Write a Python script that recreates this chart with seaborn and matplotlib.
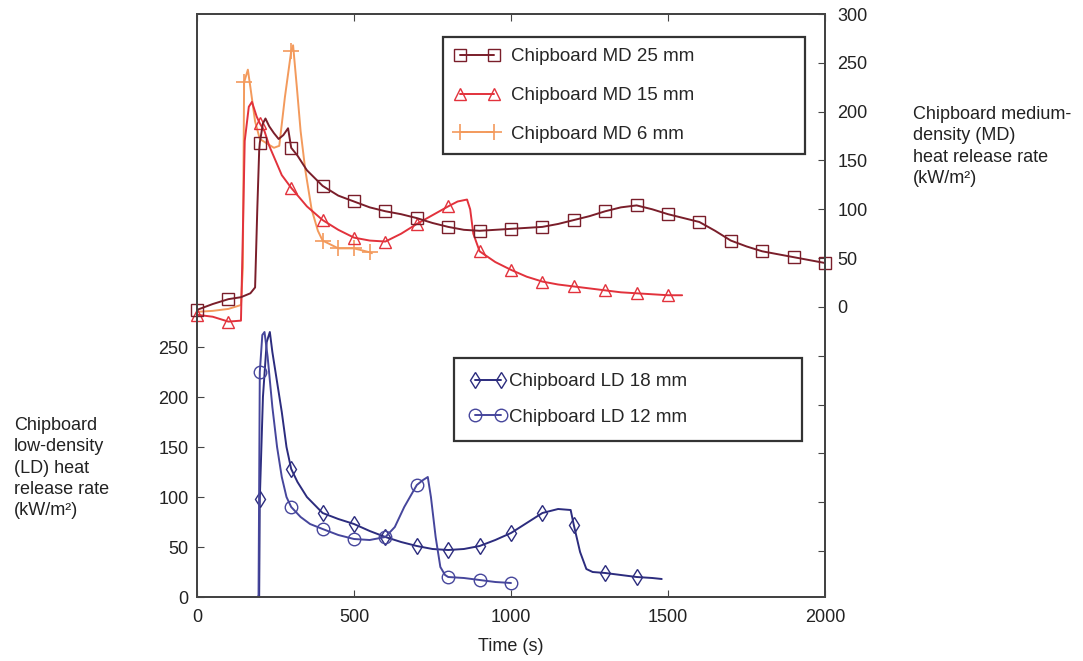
import numpy as np
import matplotlib
matplotlib.use("Agg")
import matplotlib.pyplot as plt
from matplotlib.lines import Line2D
from matplotlib.ticker import FixedLocator
import seaborn as sns

# ---------------- data ----------------
md25_t = [0, 50, 100, 140, 170, 185, 192, 198, 200, 210, 218, 230, 245, 260, 275, 290, 300, 320, 350,
          400, 450, 500, 550, 600, 650, 700, 750, 800, 850, 900, 950, 1000, 1050, 1100, 1150, 1200,
          1250, 1300, 1350, 1400, 1450, 1500, 1550, 1600, 1650, 1700, 1750, 1800, 1850, 1900, 1950, 2000]
md25_v = [-3, 3, 8, 10, 14, 20, 100, 160, 168, 188, 193, 185, 178, 172, 176, 183, 163, 155, 140,
          124, 114, 108, 102, 98, 95, 91, 86, 82, 79, 78, 79, 80, 81, 82, 85, 89,
          93, 98, 102, 104, 100, 95, 91, 87, 78, 68, 62, 57, 54, 51, 48, 45]
md25_mark = [0, 100, 200, 300, 400, 500, 600, 700, 800, 900, 1000, 1100, 1200, 1300, 1400, 1500,
             1600, 1700, 1800, 1900, 2000]

md15_t = [0, 50, 100, 140, 145, 152, 165, 175, 190, 200, 215, 230, 250, 270, 300, 350, 400, 450, 500,
          550, 600, 650, 700, 750, 800, 830, 860, 870, 880, 900, 950, 1000, 1050, 1100, 1150, 1200,
          1250, 1300, 1350, 1400, 1450, 1500, 1545]
md15_v = [-8, -10, -15, -14, 60, 170, 205, 210, 195, 188, 180, 165, 150, 135, 122, 103, 89, 79, 71,
          68, 67, 75, 85, 94, 103, 108, 110, 100, 75, 57, 46, 38, 31, 26, 23, 21,
          19, 17, 15, 14, 13, 12, 12]
md15_mark = [0, 100, 200, 300, 400, 500, 600, 700, 800, 900, 1000, 1100, 1200, 1300, 1400, 1500]

md6_t = [0, 50, 100, 140, 146, 150, 162, 170, 185, 200, 220, 245, 262, 280, 300, 306, 318, 330, 345,
         365, 385, 400, 450, 500, 550, 557]
md6_v = [-5, -4, -2, 2, 40, 230, 243, 225, 190, 172, 168, 163, 165, 215, 262, 268, 225, 180, 140,
         100, 78, 68, 60, 60, 56, 55]
md6_mark = [150, 300, 400, 450, 500, 550]

ld18_t = [198, 200, 210, 222, 232, 240, 255, 270, 285, 300, 320, 350, 400, 450, 500, 550, 600, 650,
          700, 750, 800, 850, 900, 950, 1000, 1050, 1100, 1150, 1190, 1200, 1220, 1240, 1260, 1300,
          1350, 1400, 1450, 1480]
ld18_v = [0, 98, 200, 255, 265, 245, 215, 185, 150, 128, 115, 100, 84, 78, 73, 66, 60, 55,
          51, 48, 47, 48, 51, 57, 64, 74, 84, 88, 87, 72, 45, 28, 25, 24,
          22, 20, 19, 18]
ld18_mark = [200, 300, 400, 500, 600, 700, 800, 900, 1000, 1100, 1200, 1300, 1400]

ld12_t = [194, 196, 200, 208, 215, 225, 240, 255, 270, 285, 300, 330, 360, 400, 450, 500, 550, 600,
          630, 660, 700, 720, 735, 745, 760, 775, 790, 800, 850, 900, 950, 1000]
ld12_v = [0, 2, 225, 262, 265, 240, 190, 150, 120, 100, 90, 80, 73, 68, 62, 58, 57, 60,
          70, 90, 112, 117, 120, 100, 60, 30, 22, 20, 19, 17, 15, 14]
ld12_mark = [200, 300, 400, 500, 600, 700, 800, 900, 1000]

x_ticks = [0, 500, 1000, 1500, 2000]
ld_ticks = [0, 50, 100, 150, 200, 250]
md_ticks = [-250, -200, -150, -100, -50, 0, 50, 100, 150, 200, 250, 300]

md_labels = ["Chipboard MD 25 mm", "Chipboard MD 15 mm", "Chipboard MD 6 mm"]
ld_labels = ["Chipboard LD 18 mm", "Chipboard LD 12 mm"]

# ---------------- styling ----------------
sns.set_style("ticks")
plt.rcParams["font.family"] = ["Liberation Sans", "DejaVu Sans"]

C25 = "#7a1e2a"
C15 = "#e2323c"
C6 = "#f39a5c"
C18 = "#2c2c7e"
C12 = "#46469c"
SPINE = "#444444"
FS = 13

fig = plt.figure(figsize=(10.83, 6.61), dpi=100)
ax = fig.add_axes([197 / 1083, 1 - 597 / 661, 628 / 1083, 583 / 661])
ax2 = ax.twinx()


def idx(ts, marks):
    return [ts.index(m) for m in marks]


def draw(a, t, v, marks, color, marker, ms, mew=1.0):
    sns.lineplot(x=np.array(t), y=np.array(v), ax=a, color=color, lw=1.4,
                 marker=marker, markevery=idx(t, marks), markersize=ms,
                 markerfacecolor="none", markeredgecolor=color, markeredgewidth=mew,
                 estimator=None, sort=False, legend=False, clip_on=False)


# LD on left axis
draw(ax, ld18_t, ld18_v, ld18_mark, C18, "d", 8)
draw(ax, ld12_t, ld12_v, ld12_mark, C12, "o", 9)
# MD on right axis
draw(ax2, md6_t, md6_v, md6_mark, C6, "+", 11, 1.2)
draw(ax2, md15_t, md15_v, md15_mark, C15, "^", 8)
draw(ax2, md25_t, md25_v, md25_mark, C25, "s", 8)

ax.set_xlim(0, 2000)
ax.set_ylim(0, 583)
ax2.set_ylim(-297, 300)

ax.set_xticks(x_ticks)
ax.set_xticklabels([str(t) for t in x_ticks])
ax.set_yticks(ld_ticks)
ax.set_yticklabels([str(t) for t in ld_ticks])
ax2.set_yticks(md_ticks)
ax2.set_yticklabels(["" if t < 0 else str(t) for t in md_ticks])
ax2.yaxis.set_minor_locator(FixedLocator([t for t in md_ticks if t > 0 and t < 300]))

ax.tick_params(axis="x", direction="in", length=5, top=True, labelsize=FS, pad=9,
               color=SPINE, labelcolor="#222222")
ax.tick_params(axis="y", direction="in", length=5, labelsize=FS, pad=6,
               color=SPINE, labelcolor="#222222")
ax2.tick_params(axis="y", which="major", direction="in", length=5, labelsize=FS, pad=9,
                color=SPINE, labelcolor="#222222")
ax2.tick_params(axis="y", which="minor", direction="in", length=5, left=True, right=False,
                color=SPINE)

for a in (ax, ax2):
    for s in a.spines.values():
        s.set_visible(True)
        s.set_color(SPINE)
        s.set_linewidth(1.4)

ax.set_xlabel("Time (s)", fontsize=FS, labelpad=8, color="#222222")
ax.set_ylabel("")
ax2.set_ylabel("")

fig.text(14 / 1083, 1 - 417 / 661,
         "Chipboard\nlow-density\n(LD) heat\nrelease rate\n(kW/m\u00b2)",
         ha="left", va="top", fontsize=FS, linespacing=1.33, color="#222222")
fig.text(913 / 1083, 1 - 106 / 661,
         "Chipboard medium-\ndensity (MD)\nheat release rate\n(kW/m\u00b2)",
         ha="left", va="top", fontsize=FS, linespacing=1.33, color="#222222")

# legends
md_handles = [
    Line2D([], [], color=C25, lw=1.4, marker="s", ms=8, mfc="none", mec=C25),
    Line2D([], [], color=C15, lw=1.4, marker="^", ms=8, mfc="none", mec=C15),
    Line2D([], [], color=C6, lw=1.4, marker="+", ms=11, mew=1.2, mec=C6),
]
ld_handles = [
    Line2D([], [], color=C18, lw=1.4, marker="d", ms=8, mfc="none", mec=C18),
    Line2D([], [], color=C12, lw=1.4, marker="o", ms=9, mfc="none", mec=C12),
]

leg1 = ax2.legend(md_handles, md_labels, loc="upper left",
                  bbox_to_anchor=(246 / 628, (597 - 148) / 583, 362 / 628, 111 / 583),
                  mode="expand", borderaxespad=0, fontsize=13.5, numpoints=2,
                  handlelength=2.4, handletextpad=0.65, labelspacing=1.15, borderpad=0.6,
                  fancybox=False, framealpha=1, edgecolor="#333333")
leg1.get_frame().set_linewidth(1.6)

leg2 = ax2.legend(ld_handles, ld_labels, loc="upper left",
                  bbox_to_anchor=(257 / 628, (597 - 441) / 583, 348 / 628, 83 / 583),
                  bbox_transform=ax.transAxes,
                  mode="expand", borderaxespad=0, fontsize=13.5, numpoints=2,
                  handlelength=2.0, handletextpad=0.15, labelspacing=1.0, borderpad=0.8,
                  fancybox=False, framealpha=1, edgecolor="#333333")
leg2.get_frame().set_linewidth(1.6)
ax2.add_artist(leg1)

fig.savefig("out.png", dpi=100)
